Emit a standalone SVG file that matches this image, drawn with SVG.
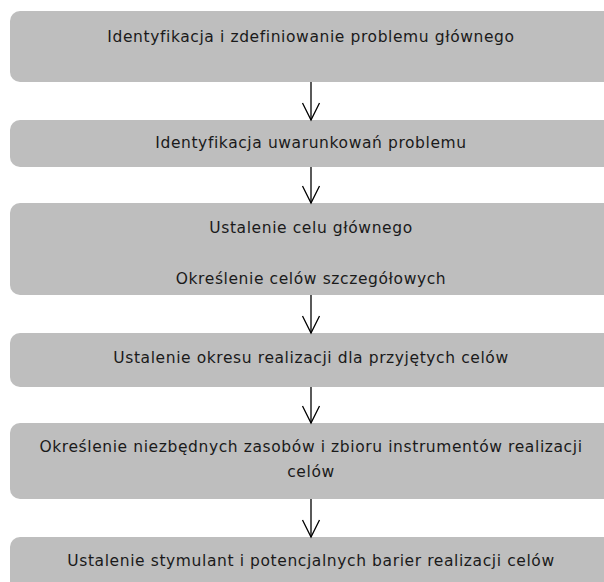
<svg xmlns="http://www.w3.org/2000/svg" width="604" height="582" viewBox="0 0 604 582">
<defs>
<style>
.box{fill:#bebebe;}
.t{font-family:"DejaVu Sans",Verdana,sans-serif;font-size:15.5px;letter-spacing:0.6px;fill:#1a1a1a;text-anchor:middle;}
.c{stroke:#000;stroke-width:1.3;fill:none;}
</style>
<marker id="ah" markerWidth="20" markerHeight="20" refX="18" refY="10" orient="auto" markerUnits="userSpaceOnUse" viewBox="0 0 20 20">
<path d="M1,1.5 L18,10 L1,18.5" fill="none" stroke="#000" stroke-width="1.3"/>
</marker>
</defs>
<rect width="604" height="582" fill="#fff"/>
<g id="n1"><rect class="box" x="10" y="11" width="610" height="71" rx="10"/><text class="t" x="311" y="42">Identyfikacja i zdefiniowanie problemu głównego</text></g>
<g id="n2"><rect class="box" x="10" y="120" width="610" height="47" rx="10"/><text class="t" x="311" y="148">Identyfikacja uwarunkowań problemu</text></g>
<g id="n3"><rect class="box" x="10" y="203" width="610" height="92" rx="10"/><text class="t" x="311" y="233">Ustalenie celu głównego</text><text class="t" x="311" y="284">Określenie celów szczegółowych</text></g>
<g id="n4"><rect class="box" x="10" y="333" width="610" height="54" rx="10"/><text class="t" x="311" y="363">Ustalenie okresu realizacji dla przyjętych celów</text></g>
<g id="n5"><rect class="box" x="10" y="423" width="610" height="76" rx="10"/><text class="t" x="311" y="452">Określenie niezbędnych zasobów i zbioru instrumentów realizacji</text><text class="t" x="311" y="477">celów</text></g>
<g id="n6"><rect class="box" x="10" y="537" width="610" height="60" rx="10"/><text class="t" x="311" y="566">Ustalenie stymulant i potencjalnych barier realizacji celów</text></g>
<g id="connectors">
<line class="c" x1="311" y1="82" x2="311" y2="120" marker-end="url(#ah)"/>
<line class="c" x1="311" y1="167" x2="311" y2="203" marker-end="url(#ah)"/>
<line class="c" x1="311" y1="295" x2="311" y2="333" marker-end="url(#ah)"/>
<line class="c" x1="311" y1="387" x2="311" y2="423" marker-end="url(#ah)"/>
<line class="c" x1="311" y1="499" x2="311" y2="537" marker-end="url(#ah)"/>
</g>
</svg>
